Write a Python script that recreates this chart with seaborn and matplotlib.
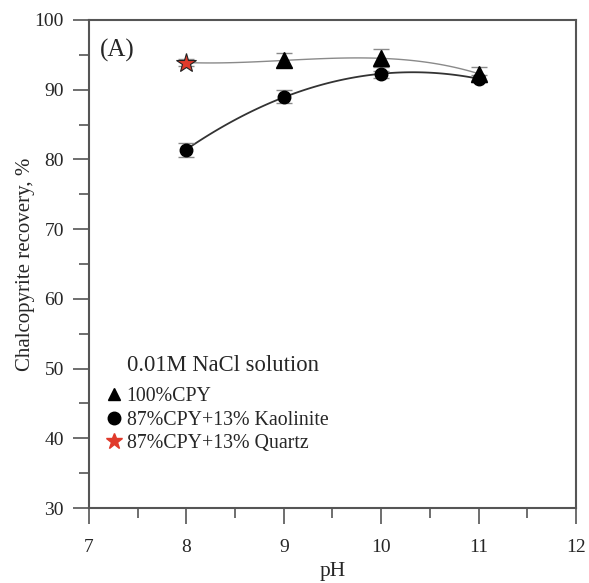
import numpy as np
import matplotlib
matplotlib.use("Agg")
import matplotlib.pyplot as plt
from matplotlib.lines import Line2D
from matplotlib.ticker import MultipleLocator
import seaborn as sns

sns.set_style("ticks")
plt.rcParams['font.family'] = ['Liberation Serif', 'DejaVu Serif']

# data
ph_cpy = [9, 10, 11]
rec_cpy = [94.2, 94.5, 92.3]
err_cpy = [1.0, 1.3, 0.9]

ph_kao = [8, 9, 10, 11]
rec_kao = [81.4, 89.0, 92.2, 91.6]
err_kao = [1.0, 0.95, 0.5, 0.5]

ph_qtz = [8]
rec_qtz = [93.9]
err_qtz = [0.5]

spine_col = "#555555"

fig, ax = plt.subplots(figsize=(5.89, 5.83), dpi=100)
fig.subplots_adjust(left=0.151, right=0.978, bottom=0.1286, top=0.9657)

# fitted curves
top_x = ph_qtz + ph_cpy
top_y = rec_qtz + rec_cpy
sns.regplot(x=top_x, y=top_y, order=3, ci=None, scatter=False, ax=ax,
            line_kws=dict(color="#8a8a8a", lw=1.0, zorder=2))
sns.regplot(x=ph_kao, y=rec_kao, order=2, ci=None, scatter=False, ax=ax,
            line_kws=dict(color="#333333", lw=1.3, zorder=2))

# error bars
for xs, ys, es in [(ph_cpy, rec_cpy, err_cpy), (ph_kao, rec_kao, err_kao),
                   (ph_qtz, rec_qtz, err_qtz)]:
    ax.errorbar(xs, ys, yerr=es, fmt="none", ecolor="#8a8a8a", elinewidth=1.0,
                capsize=6, capthick=1.0, zorder=3)

# markers
ax.plot(ph_cpy, rec_cpy, ls="none", marker="^", ms=12, color="black", zorder=4)
ax.plot(ph_kao, rec_kao, ls="none", marker="o", ms=9, color="black", zorder=4)
ax.plot(ph_qtz, rec_qtz, ls="none", marker="*", ms=15, mfc="#e03a2b",
        mec="#222222", mew=0.8, zorder=5)

ax.set_xlim(7, 12)
ax.set_ylim(30, 100)
ax.xaxis.set_major_locator(MultipleLocator(1))
ax.xaxis.set_minor_locator(MultipleLocator(0.5))
ax.yaxis.set_major_locator(MultipleLocator(10))
ax.yaxis.set_minor_locator(MultipleLocator(5))
ax.tick_params(which="major", direction="out", length=11.5, width=1.2,
               color=spine_col, labelsize=14)
ax.tick_params(which="minor", direction="out", length=7, width=1.2, color=spine_col)
ax.tick_params(axis="x", which="major", pad=11)
ax.tick_params(axis="y", which="major", pad=6.5)
for s in ax.spines.values():
    s.set_color(spine_col)
    s.set_linewidth(1.5)

ax.set_xlabel("pH", fontsize=15.5, labelpad=4)
ax.set_ylabel("Chalcopyrite recovery, %", fontsize=15, labelpad=0)

ax.text(0.023, 0.937, "(A)", transform=ax.transAxes, fontsize=18,
        ha="left", va="center")
ax.text(0.078, 0.293, "0.01M NaCl solution", transform=ax.transAxes,
        fontsize=16.3, ha="left", va="center")

handles = [
    Line2D([], [], ls="none", marker="^", ms=9, color="black"),
    Line2D([], [], ls="none", marker="o", ms=9, color="black"),
    Line2D([], [], ls="none", marker="*", ms=12, mfc="#e03a2b", mec="#e03a2b"),
]
labels = ["100%CPY", "87%CPY+13% Kaolinite", "87%CPY+13% Quartz"]
ax.legend(handles, labels, loc="lower left", bbox_to_anchor=(0.01, 0.0836),
          frameon=False, fontsize=14.3, handlelength=0.65, handletextpad=0.3,
          labelspacing=0.23, borderaxespad=0.3)

fig.savefig("out.png", dpi=100)
